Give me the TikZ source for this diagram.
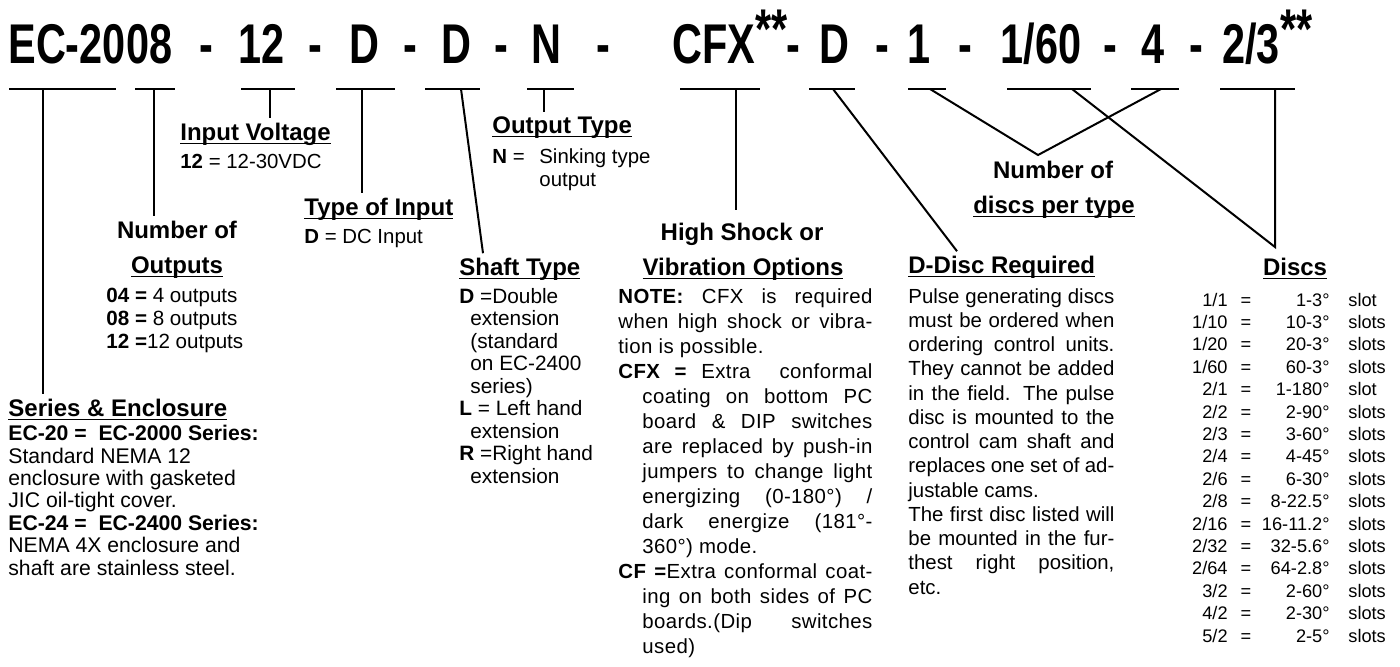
\documentclass[tikz,border=0pt]{standalone}
\usepackage{fontspec}
\setmainfont{Liberation Sans}
\usetikzlibrary{positioning}

\newsavebox{\hdbox}
\newcommand{\hdul}[1]{\sbox\hdbox{#1}\rlap{\rule[-2pt]{\wd\hdbox}{0.75pt}}\usebox\hdbox}
\newcommand{\codetxt}[1]{\scalebox{0.74}[1]{#1}}
\newcommand{\jl}[2]{\makebox[#1][s]{#2}}

\begin{document}
\begin{tikzpicture}[x=0.5pt,y=-0.5pt]

    \tikzset{codepart/.style={inner sep=0pt,anchor=base,font=\fontsize{28}{30}\selectfont\bfseries},
             heading/.style={inner xsep=0pt,inner ysep=2pt,anchor=base west,font=\fontsize{12}{14}\selectfont\bfseries},
             cheading/.style={heading,anchor=base},
             bodytext/.style={inner sep=0pt,anchor=base west,align=left,font=\fontsize{10.2}{12.5}\selectfont},
             tabtext/.style={inner sep=0pt,font=\fontsize{9.1}{11}\selectfont},
             leader/.style={line width=1pt},
             codeline/.style={line width=1.2pt}}
    \useasboundingbox (0,0) rectangle (1400,666);

    % the order code
    \node[codepart,anchor=base west] (ser) at (8,63) {\codetxt{EC-20}};
    \node[codepart,anchor=base west] (outs) at (ser.base east) {\codetxt{08}};
    \node[codepart] (d1) at (206,63) {\codetxt{-}};
    \node[codepart] (volt) at (262,63) {\codetxt{12}};
    \node[codepart] (d2) at (315,63) {\codetxt{-}};
    \node[codepart] (inp) at (364,63) {\codetxt{D}};
    \node[codepart] (d3) at (410,63) {\codetxt{-}};
    \node[codepart] (shaft) at (456,63) {\codetxt{D}};
    \node[codepart] (d4) at (501,63) {\codetxt{-}};
    \node[codepart] (otype) at (546,63) {\codetxt{N}};
    \node[codepart] (d5) at (603,63) {\codetxt{-}};
    \node[codepart,anchor=base west] (cfx) at (672,63) {\codetxt{CFX\raisebox{7.5pt}{**}}};
    \node[codepart] (d6) at (793,63) {\codetxt{-}};
    \node[codepart] (ddisc) at (834,63) {\codetxt{D}};
    \node[codepart] (d7) at (882,63) {\codetxt{-}};
    \node[codepart] (ndisc1) at (919,63) {\codetxt{1}};
    \node[codepart] (d8) at (965,63) {\codetxt{-}};
    \node[codepart] (disc1) at (1041,63) {\codetxt{1/60}};
    \node[codepart] (d9) at (1110,63) {\codetxt{-}};
    \node[codepart] (ndisc2) at (1153,63) {\codetxt{4}};
    \node[codepart] (d10) at (1196,63) {\codetxt{-}};
    \node[codepart,anchor=base west] (disc2) at (1222,63) {\codetxt{2/3\raisebox{7.5pt}{**}}};

    \foreach \a/\b in {9/116,135/175,241/295,336/395,425/480,527/574,680/760,809/855,908/946,1007/1091,1131/1179,1220/1295}
        \draw[codeline] (\a,89) -- (\b,89);

    \coordinate (ser-u) at (43,89);
    \coordinate (outs-u) at (154,89);
    \coordinate (volt-u) at (270,89);
    \coordinate (inp-u) at (362,89);
    \coordinate (shaft-u) at (461,89);
    \coordinate (otype-u) at (544,89);
    \coordinate (cfx-u) at (736,89);
    \coordinate (ddisc-u) at (833,89);
    \coordinate (ndisc1-u) at (930,89);
    \coordinate (disc1-u) at (1072,89);
    \coordinate (ndisc2-u) at (1161,89);
    \coordinate (disc2-u) at (1275,89);
    \coordinate (nd-v) at (1038,155);
    \coordinate (discs-v) at (1275,247);

    % explanations (multi-line texts sit on their last line)
    \node[heading] (hvolt) at (180,140) {\hdul{Input Voltage}};
    \node[bodytext] (bvolt) at (180,168) {\textbf{12} = 12-30VDC};

    \node[heading] (hinp) at (304,215) {\hdul{Type of Input}};
    \node[bodytext] (binp) at (304,243) {\textbf{D} = DC Input};

    \node[cheading] (hout1) at (177,238) {Number of};
    \node[cheading] (hout2) at (177,273) {\hdul{Outputs}};
    \node[bodytext,font=\fontsize{10.3}{11.5}\selectfont] (bout) at (106,348) {\textbf{04 =} 4 outputs\\ \textbf{08 =} 8 outputs\\ \textbf{12 =}12 outputs};

    \node[heading] (hser) at (8,416) {\hdul{Series \& Enclosure}};
    \node[bodytext,font=\fontsize{10.6}{11.2}\selectfont] (bser) at (8,575) {\textbf{EC-20 =\ \ EC-2000 Series:}\\ Standard NEMA 12\\ enclosure with gasketed\\ JIC oil-tight cover.\\
        \textbf{EC-24 =\ \ EC-2400 Series:}\\ NEMA 4X enclosure and\\ shaft are stainless steel.};

    \node[heading] (hotype) at (492,133) {\hdul{Output Type}};
    \node[bodytext] (botype) at (492,186) {\makebox[23.5pt][l]{\textbf{N} =}Sinking type\\[-1pt] \hspace*{23.5pt}output};

    \node[heading] (hshaft) at (459,275) {\hdul{Shaft Type}};
    \node[bodytext,font=\fontsize{10.4}{11.25}\selectfont] (bshaft) at (459,483) {\textbf{D} =Double\\ \hspace*{5.5pt}extension\\ \hspace*{5.5pt}(standard\\ \hspace*{5.5pt}on EC-2400\\ \hspace*{5.5pt}series)\\
        \textbf{L} = Left hand\\ \hspace*{5.5pt}extension\\ \textbf{R} =Right hand\\ \hspace*{5.5pt}extension};

    \node[cheading] (hvib1) at (742,240) {High Shock or};
    \node[cheading] (hvib2) at (743,275) {\hdul{Vibration Options}};
    \node[bodytext,font=\fontsize{10.2}{12.5}\selectfont\addfontfeature{LetterSpace=2}] (bvib) at (618,653) {%
        \jl{127pt}{\textbf{NOTE:} CFX is required}\\
        \jl{127pt}{when high shock or vibra-}\\
        tion is possible.\\
        \jl{127pt}{\textbf{CFX =} Extra\ \ conformal}\\
        \hspace*{12pt}\jl{115pt}{coating on bottom PC}\\
        \hspace*{12pt}\jl{115pt}{board \& DIP switches}\\
        \hspace*{12pt}\jl{115pt}{are replaced by push-in}\\
        \hspace*{12pt}\jl{115pt}{jumpers to change light}\\
        \hspace*{12pt}\jl{115pt}{energizing (0-180°) /}\\
        \hspace*{12pt}\jl{115pt}{dark energize (181°-}\\
        \hspace*{12pt}360°) mode.\\
        \jl{127pt}{\textbf{CF =}Extra conformal coat-}\\
        \hspace*{12pt}\jl{115pt}{ing on both sides of PC}\\
        \hspace*{12pt}\jl{115pt}{boards.(Dip switches}\\
        \hspace*{12pt}used)};

    \node[heading] (hdd) at (908,273) {\hdul{D-Disc Required}};
    \node[bodytext,font=\fontsize{10.2}{12.12}\selectfont] (bdd) at (908,594) {%
        \jl{103pt}{Pulse generating discs}\\
        \jl{103pt}{must be ordered when}\\
        \jl{103pt}{ordering control units.}\\
        \jl{103pt}{They cannot be added}\\
        \jl{103pt}{in the field. The pulse}\\
        \jl{103pt}{disc is mounted to the}\\
        \jl{103pt}{control cam shaft and}\\
        \jl{103pt}{replaces one set of ad-}\\
        justable cams.\\
        \jl{103pt}{The first disc listed will}\\
        \jl{103pt}{be mounted in the fur-}\\
        \jl{103pt}{thest right position,}\\
        etc.};

    \node[cheading] (hnd1) at (1053,178) {Number of};
    \node[cheading] (hnd2) at (1054,213) {\hdul{discs per type}};

    \node[cheading] (hdiscs) at (1295,275) {\hdul{Discs}};
    \foreach \fra/\vdeg/\slt [count=\i from 0] in {{1/1}/{1-3°}/slot,{1/10}/{10-3°}/slots,{1/20}/{20-3°}/slots,{1/60}/{60-3°}/slots,
            {2/1}/{1-180°}/slot,{2/2}/{2-90°}/slots,{2/3}/{3-60°}/slots,{2/4}/{4-45°}/slots,{2/6}/{6-30°}/slots,
            {2/8}/{8-22.5°}/slots,{2/16}/{16-11.2°}/slots,{2/32}/{32-5.6°}/slots,{2/64}/{64-2.8°}/slots,
            {3/2}/{2-60°}/slots,{4/2}/{2-30°}/slots,{5/2}/{2-5°}/slots}
    {
        \node[tabtext,anchor=base east] (fr\i) at (1228,{306+22.4*\i}) {\fra};
        \node[tabtext,anchor=base] (eq\i) at (1246,{306+22.4*\i}) {=};
        \node[tabtext,anchor=base east] (dg\i) at (1330,{306+22.4*\i}) {\vdeg};
        \node[tabtext,anchor=base west] (un\i) at (1348,{306+22.4*\i}) {\slt};
    }

    % leaders
    \begin{scope}[every path/.style={leader}]
        \draw (ser-u) -- (ser-u |- hser.north);
        \draw (outs-u) -- (outs-u |- hout1.north);
        \draw (volt-u) -- (volt-u |- hvolt.north);
        \draw (inp-u) -- (inp-u |- hinp.north);
        \draw (shaft-u) -- ([xshift=12pt]hshaft.north west);
        \draw (otype-u) -- (otype-u |- hotype.north);
        \draw[shorten >=4pt] (cfx-u) -- (cfx-u |- hvib1.north);
        \draw (ddisc-u) -- ([xshift=24.5pt]hdd.north west);
        \draw (ndisc1-u) -- (nd-v) -- (ndisc2-u);
        \draw (disc1-u) -- (discs-v) -- (disc2-u);
    \end{scope}
\end{tikzpicture}
\end{document}
